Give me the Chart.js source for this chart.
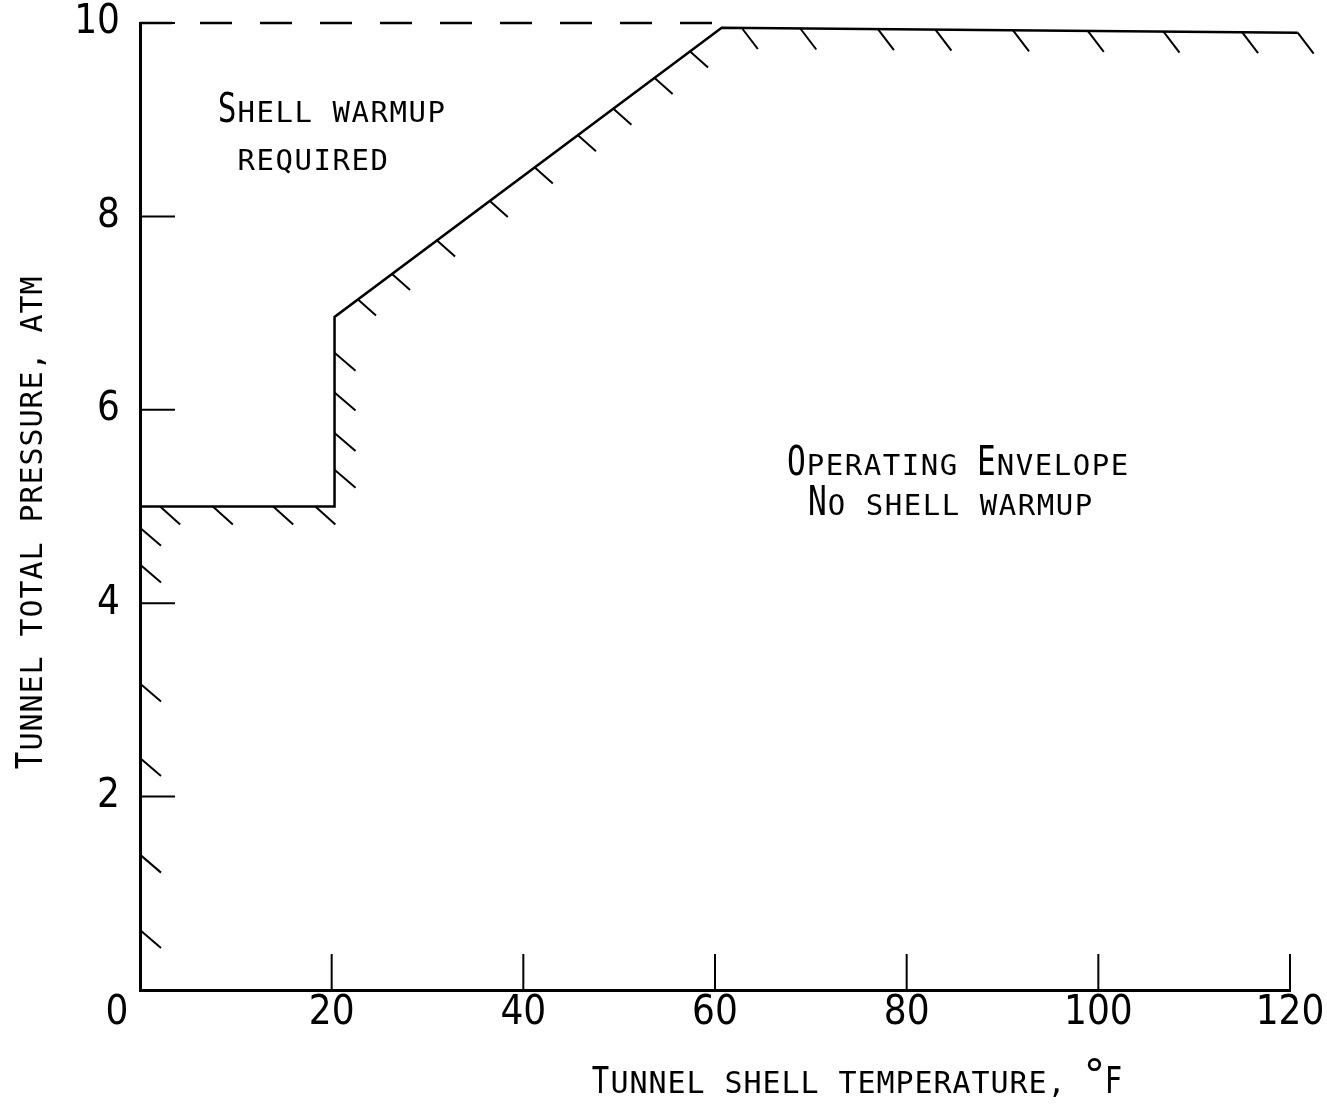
<!DOCTYPE html>
<html>
<head>
<meta charset="utf-8">
<script src="https://cdn.jsdelivr.net/npm/chart.js@4"></script>
<style>
  html, body { margin: 0; padding: 0; background: #fff; }
  canvas { display: block; }
</style>
</head>
<body>
<canvas id="envelope" width="1327" height="1109"></canvas>
<script>
// Tunnel shell warmup / operating envelope
const xTickValues = [0, 20, 40, 60, 80, 100, 120];
const yTickValues = [0, 2, 4, 6, 8, 10];

// envelope boundary: shell temperature (F) vs total pressure (atm)
const boundaryTemp = [0, 20.3, 20.3, 60.7, 120.8];
const boundaryPress = [5, 5, 6.96, 9.95, 9.9];

// dashed upper pressure limit
const limitTemp = [0, 60.7];
const limitPress = [10, 10];

// hatch positions along each piece of the boundary
const axisHatchPress = [4.78, 4.4, 3.17, 2.4, 1.4, 0.62];
const shelfHatchTemp = [2.1, 7.6, 13.9, 18.3];
const stepHatchPress = [6.59, 6.18, 5.76, 5.38];
const rampHatchTemp = [22.75, 26.3, 31.0, 36.5, 41.2, 45.7, 49.4, 53.7, 57.4];
const topHatchTemp = [62.8, 68.9, 77.0, 83.0, 91.1, 98.9, 106.8, 115.0, 120.8];

const regionLabels = [
  { text: 'Shell warmup', x: 8.1, y: 8.98 },
  { text: 'required', x: 10.1, y: 8.48 },
  { text: 'Operating Envelope', x: 67.5, y: 5.33 },
  { text: 'No shell warmup', x: 69.7, y: 4.91 },
];

const xTitle = 'Tunnel shell temperature, °F';
const yTitle = 'Tunnel total pressure, atm';

const tickFont = "'Liberation Sans Narrow', 'DejaVu Sans Condensed', sans-serif";
const letterFont = '"DejaVu Sans Mono", monospace';

const toPoints = (xs, ys) => xs.map((v, i) => ({ x: v, y: ys[i] }));

// pressure on the sloped / flat part of the boundary
const pressureAt = (t) => {
  for (let i = 0; i < boundaryTemp.length - 1; i++) {
    const t0 = boundaryTemp[i], t1 = boundaryTemp[i + 1];
    if (t1 > t0 && t >= t0 && t <= t1) {
      return boundaryPress[i] + (boundaryPress[i + 1] - boundaryPress[i]) * (t - t0) / (t1 - t0);
    }
  }
  return boundaryPress[boundaryPress.length - 1];
};

const seg = (ctx, px, py, dx, dy) => {
  ctx.beginPath();
  ctx.moveTo(px, py);
  ctx.lineTo(px + dx, py + dy);
  ctx.stroke();
};

// lettering: capitals drawn tall, lower case as small capitals, fixed pitch
const drawSmallCaps = (ctx, text, x0, y0, big, small) => {
  const advance = 19;
  ctx.textAlign = 'center';
  ctx.textBaseline = 'alphabetic';
  [...text].forEach((ch, i) => {
    if (ch === ' ') return;
    ctx.save();
    ctx.translate(x0 + i * advance + advance / 2, y0);
    if (ch >= 'A' && ch <= 'Z') {
      ctx.font = `${big}px ${letterFont}`;
      ctx.scale(0.78, 1);
    } else if (ch === '°') {
      ctx.font = `${big + 6}px ${letterFont}`;
      ctx.translate(0, -3);
    } else {
      ctx.font = `${small}px ${letterFont}`;
    }
    ctx.fillText(ch.toUpperCase(), 0, 0);
    ctx.restore();
  });
};

const envelopeMarks = {
  id: 'envelopeMarks',
  afterDraw(chart) {
    const { ctx, chartArea } = chart;
    const x = chart.scales.x, y = chart.scales.y;
    ctx.save();
    ctx.strokeStyle = '#000';
    ctx.fillStyle = '#000';
    ctx.lineWidth = 2;

    // tick marks pointing into the plot
    xTickValues.filter(v => v > 0).forEach(v => seg(ctx, x.getPixelForValue(v), chartArea.bottom, 0, -36));
    yTickValues.filter(v => v > 0).forEach(v => seg(ctx, chartArea.left, y.getPixelForValue(v), 35, 0));

    // hatching on the operating side of the boundary
    axisHatchPress.forEach(p => seg(ctx, x.getPixelForValue(0), y.getPixelForValue(p), 21, 18));
    shelfHatchTemp.forEach(t => seg(ctx, x.getPixelForValue(t), y.getPixelForValue(boundaryPress[0]), 20, 18));
    stepHatchPress.forEach(p => seg(ctx, x.getPixelForValue(boundaryTemp[1]), y.getPixelForValue(p), 21, 18));
    rampHatchTemp.forEach(t => seg(ctx, x.getPixelForValue(t), y.getPixelForValue(pressureAt(t)), 18, 16));
    topHatchTemp.forEach(t => seg(ctx, x.getPixelForValue(t), y.getPixelForValue(pressureAt(t)), 16, 21));

    // shared origin label
    ctx.font = `40px ${tickFont}`;
    ctx.textAlign = 'center';
    ctx.textBaseline = 'middle';
    ctx.fillText('0', chartArea.left - 23, chartArea.bottom + 24);

    regionLabels.forEach(l => {
      drawSmallCaps(ctx, l.text, x.getPixelForValue(l.x), y.getPixelForValue(l.y), 40, 29);
    });

    drawSmallCaps(ctx, xTitle, chartArea.left + 451, chartArea.bottom + 103, 37, 30);

    ctx.save();
    ctx.translate(chartArea.left - 98, chartArea.bottom - 220);
    ctx.rotate(-Math.PI / 2);
    drawSmallCaps(ctx, yTitle, 0, 0, 37, 30);
    ctx.restore();

    ctx.restore();
  }
};

new Chart(document.getElementById('envelope'), {
  type: 'scatter',
  data: {
    datasets: [
      {
        label: 'Envelope boundary',
        data: toPoints(boundaryTemp, boundaryPress),
        showLine: true,
        borderColor: '#000',
        borderWidth: 2.5,
        pointRadius: 0,
        clip: false,
      },
      {
        label: 'Pressure limit',
        data: toPoints(limitTemp, limitPress),
        showLine: true,
        borderColor: '#000',
        borderWidth: 2.5,
        borderDash: [32, 28],
        pointRadius: 0,
        clip: false,
      },
    ],
  },
  options: {
    responsive: false,
    animation: false,
    devicePixelRatio: 1,
    layout: { padding: { top: 23, right: 37, left: 0, bottom: 0 } },
    plugins: {
      legend: { display: false },
      tooltip: { enabled: false },
    },
    scales: {
      x: {
        type: 'linear',
        min: 0,
        max: 120,
        afterBuildTicks: (scale) => { scale.ticks = xTickValues.map(v => ({ value: v })); },
        afterFit: (scale) => { scale.height = 119; scale.paddingRight = 0; },
        ticks: {
          color: '#000',
          padding: 0,
          font: { family: tickFont, size: 40 },
          callback: (v) => (v === 0 ? '' : v),
        },
        grid: { display: false, drawTicks: false },
        border: { display: true, color: '#000', width: 3 },
      },
      y: {
        type: 'linear',
        min: 0,
        max: 10,
        afterBuildTicks: (scale) => { scale.ticks = yTickValues.map(v => ({ value: v })); },
        afterFit: (scale) => { scale.width = 140; scale.paddingTop = 0; },
        ticks: {
          color: '#000',
          padding: 20,
          font: { family: tickFont, size: 40 },
          callback: (v) => (v === 0 ? '' : v),
        },
        grid: { display: false, drawTicks: false },
        border: { display: true, color: '#000', width: 3 },
      },
    },
  },
  plugins: [envelopeMarks],
});
</script>
</body>
</html>
